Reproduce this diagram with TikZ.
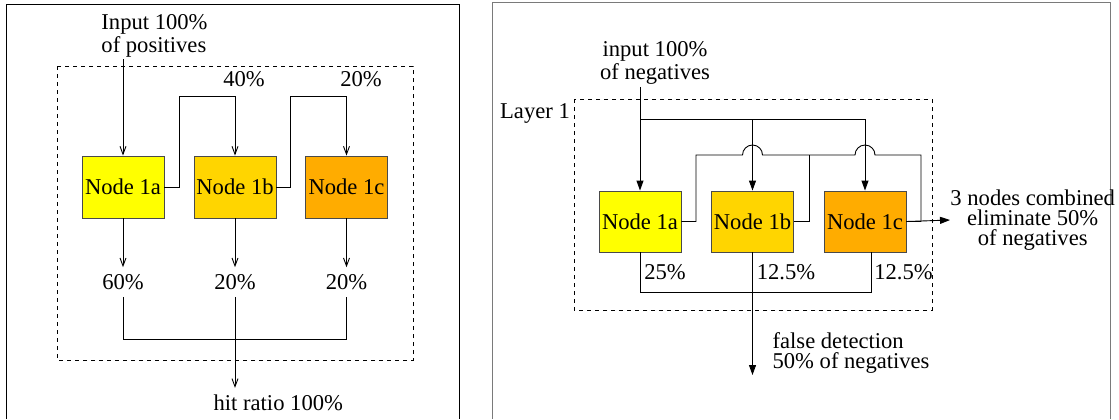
\documentclass[tikz,border=0pt]{standalone}
\usepackage{fontspec}
\setmainfont{Liberation Serif}
\usetikzlibrary{arrows.meta}
\definecolor{nodeA}{HTML}{FFFF00}
\definecolor{nodeB}{HTML}{FFD500}
\definecolor{nodeC}{HTML}{FFAC00}
\definecolor{rim}{HTML}{4A4A4A}
\definecolor{frame}{HTML}{7A7A7A}
\begin{document}
\begin{tikzpicture}[x=0.5pt,y=-0.5pt,line width=0.45pt,
    font=\fontsize{11.3}{10}\selectfont,
    box/.style={draw=rim,minimum width=41pt,minimum height=30.5pt,inner sep=0pt},
    barb/.style={-{Straight Barb[length=4pt,width=3pt]}},
    tri/.style={-{Triangle[length=5pt,width=3.5pt]}},
    layer/.style={dash pattern=on 2pt off 2pt}]
  \useasboundingbox (0,0) rectangle (1119,419);
  % frames
  \draw (6,419) -- (6,4.5) -- (459,4.5) -- (459,419);
  \draw[frame] (492,419) -- (492,2) -- (1110,2) -- (1110,419);
  % positives
  \draw[layer] (57,66) rectangle (413,360);
  \draw
    (154.5,35.5) node[align=left,inner sep=1pt,font=\fontsize{11.3}{11.5}\selectfont] (pinput){Input 100\%\\of positives}
    (123,187) node[box,fill=nodeA,minimum height=31pt] (p1a){Node 1a}
    (235,187) node[box,fill=nodeB,minimum height=31pt] (p1b){Node 1b}
    (346.5,187) node[box,fill=nodeC,minimum height=31pt] (p1c){Node 1c}
    (244,79) node (p40){40\%}
    (361,79) node (p20){20\%}
    (123,282) node (o1a){60\%}
    (235,282) node (o1b){20\%}
    (346.5,282) node (o1c){20\%}
    (206.5,403) node[anchor=west] (hit){hit ratio 100\%};
  \coordinate (t1) at (179,96);
  \coordinate (t2) at (290,96);
  \coordinate (mrg) at (235,339);
  \begin{scope}[barb]
    \draw (pinput.south -| p1a) to (p1a.north);
    \draw (p1a.east) -| (t1) -| (p1b.north);
    \draw (p1b.east) -| (t2) -| (p1c.north);
    \draw (p1a.south) to (o1a.north);
    \draw (p1b.south) to (o1b.north);
    \draw (p1c.south) to (o1c.north);
    \draw (o1b.south) to (o1b.south |- hit.north);
  \end{scope}
  \draw (o1a.south) |- (mrg) -| (o1c.south);
  % negatives
  \draw[layer] (574,99) rectangle (932,310);
  \draw
    (655,63) node[align=center,inner sep=1pt] (ninput){input 100\%\\of negatives}
    (535,113) node (layer1){Layer 1}
    (640,221.5) node[box,fill=nodeA] (n1a){Node 1a}
    (752.5,221.5) node[box,fill=nodeB] (n1b){Node 1b}
    (865,221.5) node[box,fill=nodeC] (n1c){Node 1c}
    (950,220) node[anchor=west,align=center,inner sep=0pt] (comb){3 nodes combined\\eliminate 50\%\\of negatives}
    (665,272) node (e1a){25\%}
    (786,272) node (e1b){12.5\%}
    (903.5,272) node (e1c){12.5\%}
    (765.5,352.5) node[anchor=west,align=left] (fd){false detection\\50\% of negatives};
  \coordinate (top) at (640,119);
  \coordinate (j1) at (696,155);
  \coordinate (j2) at (921,155);
  \coordinate (j3) at (809,155);
  \coordinate (bot) at (871,292);
  \coordinate (fdend) at (752.5,375);
  \begin{scope}[tri]
    \draw (ninput.south -| n1a) to (n1a.north);
    \draw (top) -| (n1b.north);
    \draw (top) -| (n1c.north);
    \draw (n1c.east) to (comb.west);
    \draw (n1b.south) to (fdend);
  \end{scope}
  \draw (n1a.east) -| (j1) -- (742.5,155) arc (180:360:10) -- (855,155)
    arc (180:360:10) -- (j2) |- (n1c.east);
  \draw (n1b.east) -| (j3);
  \draw (n1a.south) |- (bot) -- (bot |- n1c.south);
\end{tikzpicture}
\end{document}
